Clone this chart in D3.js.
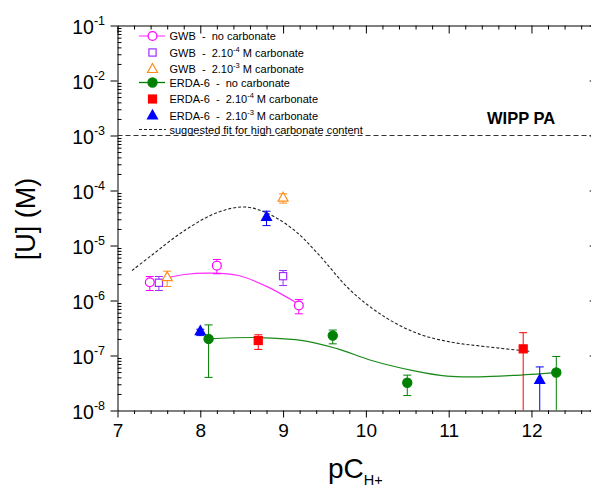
<!DOCTYPE html>
<html>
<head>
<meta charset="utf-8">
<style>
  html, body { margin: 0; padding: 0; background: #fff; }
  svg { display: block; font-family: "Liberation Sans", Arial, sans-serif; }
  .axis path, .axis line { stroke: #000; stroke-width: 1; }
  .leg text { white-space: pre; }
</style>
<script src="https://cdn.jsdelivr.net/npm/d3@7"></script>
</head>
<body>
<div id="chart"></div>
<script>
// GWB brine, no carbonate
var gwbNoX = [7.39, 8.2, 9.19];
var gwbNoY = [2.15e-6, 4.3e-6, 8.1e-7];
var gwbNoHi = [2.73e-6, 5.56e-6, 1.04e-6];
var gwbNoLo = [1.52e-6, 3.06e-6, 5.73e-7];
// GWB, 2.10-4 M carbonate
var gwb4X = [7.5, 9.0];
var gwb4Y = [2.1e-6, 2.77e-6];
var gwb4Hi = [2.73e-6, 3.51e-6];
var gwb4Lo = [1.52e-6, 1.87e-6];
// GWB, 2.10-3 M carbonate
var gwb3X = [7.6, 9.0];
var gwb3Y = [2.65e-6, 7.4e-5];
var gwb3Hi = [3.41e-6, 8.7e-5];
var gwb3Lo = [1.8e-6, 5.9e-5];
// ERDA-6, no carbonate
var erdaNoX = [8.1, 9.6, 10.5, 12.3];
var erdaNoY = [2.0e-7, 2.3e-7, 3.2e-8, 4.9e-8];
var erdaNoHi = [3.6e-7, 2.9e-7, 4.4e-8, 9.6e-8];
var erdaNoLo = [4.0e-8, 1.63e-7, 1.87e-8, 1e-9];
// ERDA-6, 2.10-4 M carbonate
var erda4X = [8.7, 11.9];
var erda4Y = [1.87e-7, 1.32e-7];
var erda4Hi = [2.38e-7, 2.6e-7];
var erda4Lo = [1.29e-7, 1e-9];
// ERDA-6, 2.10-3 M carbonate
var erda3X = [8.0, 8.8, 12.1];
var erda3Y = [2.77e-7, 3.3e-5, 3.6e-8];
var erda3Hi = [3.0e-7, 4.2e-5, 6.2e-8];
var erda3Lo = [2.3e-7, 2.3e-5, 1e-9];

// fitted curves
var fitGwbX = [7.61, 7.81, 8.13, 8.46, 8.82, 9.18];
var fitGwbY = [2.6e-6, 2.97e-6, 3.14e-6, 2.85e-6, 1.75e-6, 8.7e-7];
var fitErdaX = [8.09, 8.7, 9.26, 9.66, 10.07, 10.57, 10.98, 11.38, 11.78, 12.3];
var fitErdaY = [2.0e-7, 2.12e-7, 1.85e-7, 1.32e-7, 8.1e-8, 5.3e-8, 4.2e-8, 4.1e-8, 4.35e-8, 4.9e-8];
var fitHighX = [7.175, 7.41, 7.81, 8.21, 8.54, 8.82, 9.14, 9.42, 9.82, 10.23, 10.63, 11.03, 11.43, 12.0];
var fitHighY = [3.5e-6, 6.6e-6, 1.87e-5, 4.0e-5, 5.0e-5, 3.8e-5, 1.87e-5, 7.1e-6, 1.5e-6, 5.0e-7, 2.5e-7, 1.75e-7, 1.46e-7, 1.18e-7];

var wippLimit = 1e-3;
var xMajor = [7, 8, 9, 10, 11, 12];
var yExp = [-1, -2, -3, -4, -5, -6, -7, -8];
var legendLabels = [
  ["GWB  -  no carbonate"],
  ["GWB  -  2.10", "-4", " M carbonate"],
  ["GWB  -  2.10", "-3", " M carbonate"],
  ["ERDA-6  -  no carbonate"],
  ["ERDA-6  -  2.10", "-4", " M carbonate"],
  ["ERDA-6  -  2.10", "-3", " M carbonate"],
  ["suggested fit for high carbonate content"]
];

var w = 591, h = 489;
var svg = d3.select("#chart").append("svg").attr("width", w).attr("height", h);

var x = d3.scaleLinear().domain([7, 12.8]).range([117.5, 597.7]);
var y = d3.scaleLog().domain([1e-8, 1e-1]).range([410.5, 25.5]).clamp(true);

var x0 = x.range()[0], x1 = x.range()[1], yb = y.range()[0], yt = y.range()[1];

// minor tick values
var xMinor = d3.range(7, 12.81, 0.2).map(function(v) { return Math.round(v * 10) / 10; })
  .filter(function(v) { return xMajor.indexOf(v) < 0; });
var yMinor = [];
yExp.forEach(function(e) {
  if (e === -1) return;
  for (var k = 2; k < 10; k++) yMinor.push(k * Math.pow(10, e));
});
var yMajorVals = yExp.map(function(e) { return Math.pow(10, e); });

// bottom axis
svg.append("g").attr("class", "axis").attr("transform", "translate(0," + yb + ")")
  .call(d3.axisBottom(x).tickValues(xMajor).tickSize(7).tickSizeOuter(0).tickPadding(6)
    .tickFormat(d3.format("d")))
  .call(function(g) { g.selectAll("text").attr("font-size", 19).attr("font-family", "Liberation Sans, Arial"); });
svg.append("g").attr("class", "axis").attr("transform", "translate(0," + yb + ")")
  .call(d3.axisBottom(x).tickValues(xMinor).tickSize(3.5).tickSizeOuter(0).tickFormat(""))
  .call(function(g) { g.select(".domain").remove(); });

// top axis (ticks inward)
svg.append("g").attr("class", "axis").attr("transform", "translate(0," + yt + ")")
  .call(d3.axisBottom(x).tickValues(xMajor).tickSize(8).tickSizeOuter(0).tickFormat(""));
svg.append("g").attr("class", "axis").attr("transform", "translate(0," + yt + ")")
  .call(d3.axisBottom(x).tickValues(xMinor).tickSize(4).tickSizeOuter(0).tickFormat(""))
  .call(function(g) { g.select(".domain").remove(); });

// left axis
svg.append("g").attr("class", "axis").attr("transform", "translate(" + x0 + ",0)")
  .call(d3.axisLeft(y).tickValues(yMajorVals).tickSize(7).tickSizeOuter(0).tickFormat(""));
svg.append("g").attr("class", "axis").attr("transform", "translate(" + x0 + ",0)")
  .call(d3.axisRight(y).tickValues(yMinor).tickSize(4).tickSizeOuter(0).tickFormat(""))
  .call(function(g) { g.select(".domain").remove(); });

// right axis (mostly off screen, ticks inward)
svg.append("g").attr("class", "axis").attr("transform", "translate(" + x1 + ",0)")
  .call(d3.axisLeft(y).tickValues(yMajorVals).tickSize(8).tickSizeOuter(0).tickFormat(""));

// y tick labels 10^n
var yl = svg.append("g").selectAll("text").data(yExp).enter().append("text")
  .attr("x", 105).attr("y", function(e) { return y(Math.pow(10, e)) + 8.5; })
  .attr("text-anchor", "end").attr("font-size", 19.5);
yl.append("tspan").text("10");
yl.append("tspan").attr("font-size", 12.5).attr("dy", -9).text(function(e) { return e; });

// axis titles
svg.append("text").attr("transform", "translate(35,219) rotate(-90)")
  .attr("text-anchor", "middle").attr("font-size", 27).text("[U] (M)");
var xt = svg.append("text").attr("x", 328).attr("y", 478).attr("font-size", 28);
xt.append("tspan").text("pC");
xt.append("tspan").attr("font-size", 14.5).attr("dy", 6.5).text("H+");

// WIPP PA limit
svg.append("line").attr("x1", x0).attr("x2", x1).attr("y1", y(wippLimit)).attr("y2", y(wippLimit))
  .attr("stroke", "#333").attr("stroke-dasharray", "5,3");
svg.append("text").attr("x", 487).attr("y", 124).attr("font-size", 16.5).attr("font-weight", "bold")
  .text("WIPP PA");

// curves
function pts(xs, ys) { return xs.map(function(v, i) { return [v, ys[i]]; }); }
var line = d3.line().x(function(d) { return x(d[0]); }).y(function(d) { return y(d[1]); })
  .curve(d3.curveCatmullRom);
svg.append("path").attr("d", line(pts(fitHighX, fitHighY))).attr("fill", "none")
  .attr("stroke", "#222").attr("stroke-width", 1.1).attr("stroke-dasharray", "3,2");
svg.append("path").attr("d", line(pts(fitGwbX, fitGwbY))).attr("fill", "none")
  .attr("stroke", "#ff2bff").attr("stroke-width", 1.2);
svg.append("path").attr("d", line(pts(fitErdaX, fitErdaY))).attr("fill", "none")
  .attr("stroke", "#1a8a1a").attr("stroke-width", 1.2);

// series definitions (style only)
var series = [
  { xs: gwbNoX, ys: gwbNoY, hi: gwbNoHi, lo: gwbNoLo, color: "#ff00ff", shape: "circle", fill: false },
  { xs: gwb4X, ys: gwb4Y, hi: gwb4Hi, lo: gwb4Lo, color: "#9b30ff", shape: "square", fill: false },
  { xs: gwb3X, ys: gwb3Y, hi: gwb3Hi, lo: gwb3Lo, color: "#ff8c1a", shape: "triangle", fill: false },
  { xs: erdaNoX, ys: erdaNoY, hi: erdaNoHi, lo: erdaNoLo, color: "#008000", shape: "circle", fill: true },
  { xs: erda4X, ys: erda4Y, hi: erda4Hi, lo: erda4Lo, color: "#ff0000", shape: "square", fill: true },
  { xs: erda3X, ys: erda3Y, hi: erda3Hi, lo: erda3Lo, color: "#0000ff", shape: "triangle", fill: true }
];

function marker(g, s, cx, cy) {
  var fill = s.fill ? s.color : "#fff";
  if (s.shape === "circle") {
    g.append("circle").attr("cx", cx).attr("cy", cy).attr("r", s.fill ? 4.6 : 4.4)
      .attr("fill", fill).attr("stroke", s.color).attr("stroke-width", 1.2);
  } else if (s.shape === "square") {
    var a = s.fill ? 4 : 3.6;
    g.append("rect").attr("x", cx - a).attr("y", cy - a).attr("width", 2 * a).attr("height", 2 * a)
      .attr("fill", fill).attr("stroke", s.color).attr("stroke-width", 1.2);
  } else {
    g.append("path").attr("d", "M" + cx + "," + (cy - 5.5) + "L" + (cx + 5) + "," + (cy + 3.5) + "L" + (cx - 5) + "," + (cy + 3.5) + "Z")
      .attr("fill", fill).attr("stroke", s.color).attr("stroke-width", 1.2);
  }
}

series.forEach(function(s) {
  var g = svg.append("g");
  s.xs.forEach(function(v, i) {
    var cx = x(v), hy = y(s.hi[i]), ly = y(s.lo[i]);
    g.append("line").attr("x1", cx).attr("x2", cx).attr("y1", hy).attr("y2", ly)
      .attr("stroke", s.color).attr("stroke-width", 1);
    g.append("line").attr("x1", cx - 4).attr("x2", cx + 4).attr("y1", hy).attr("y2", hy)
      .attr("stroke", s.color).attr("stroke-width", 1);
    if (s.lo[i] >= 1e-8)
      g.append("line").attr("x1", cx - 4).attr("x2", cx + 4).attr("y1", ly).attr("y2", ly)
        .attr("stroke", s.color).attr("stroke-width", 1);
    marker(g, s, cx, y(s.ys[i]));
  });
});

// legend
var legRows = [36, 52.5, 69, 82.5, 99, 115.5, 129.5];
var lg = svg.append("g").attr("class", "leg");
legendLabels.forEach(function(parts, i) {
  var ly = legRows[i];
  if (i < 6) {
    var s = series[i];
    if (i === 0 || i === 3)
      lg.append("line").attr("x1", 139).attr("x2", 165).attr("y1", ly).attr("y2", ly)
        .attr("stroke", i === 0 ? "#ff55ff" : "#008000").attr("stroke-width", 1.3);
    marker(lg, s, 152.5, ly);
  } else {
    lg.append("line").attr("x1", 139).attr("x2", 166).attr("y1", ly).attr("y2", ly)
      .attr("stroke", "#222").attr("stroke-dasharray", "3,2");
  }
  var t = lg.append("text").attr("x", 169.5).attr("y", ly + 4).attr("font-size", 11)
    .attr("xml:space", "preserve");
  t.append("tspan").text(parts[0]);
  if (parts.length > 1) {
    t.append("tspan").attr("font-size", 7.5).attr("dy", -5).text(parts[1]);
    t.append("tspan").attr("dy", 5).text(parts[2]);
  }
});
</script>
</body>
</html>
